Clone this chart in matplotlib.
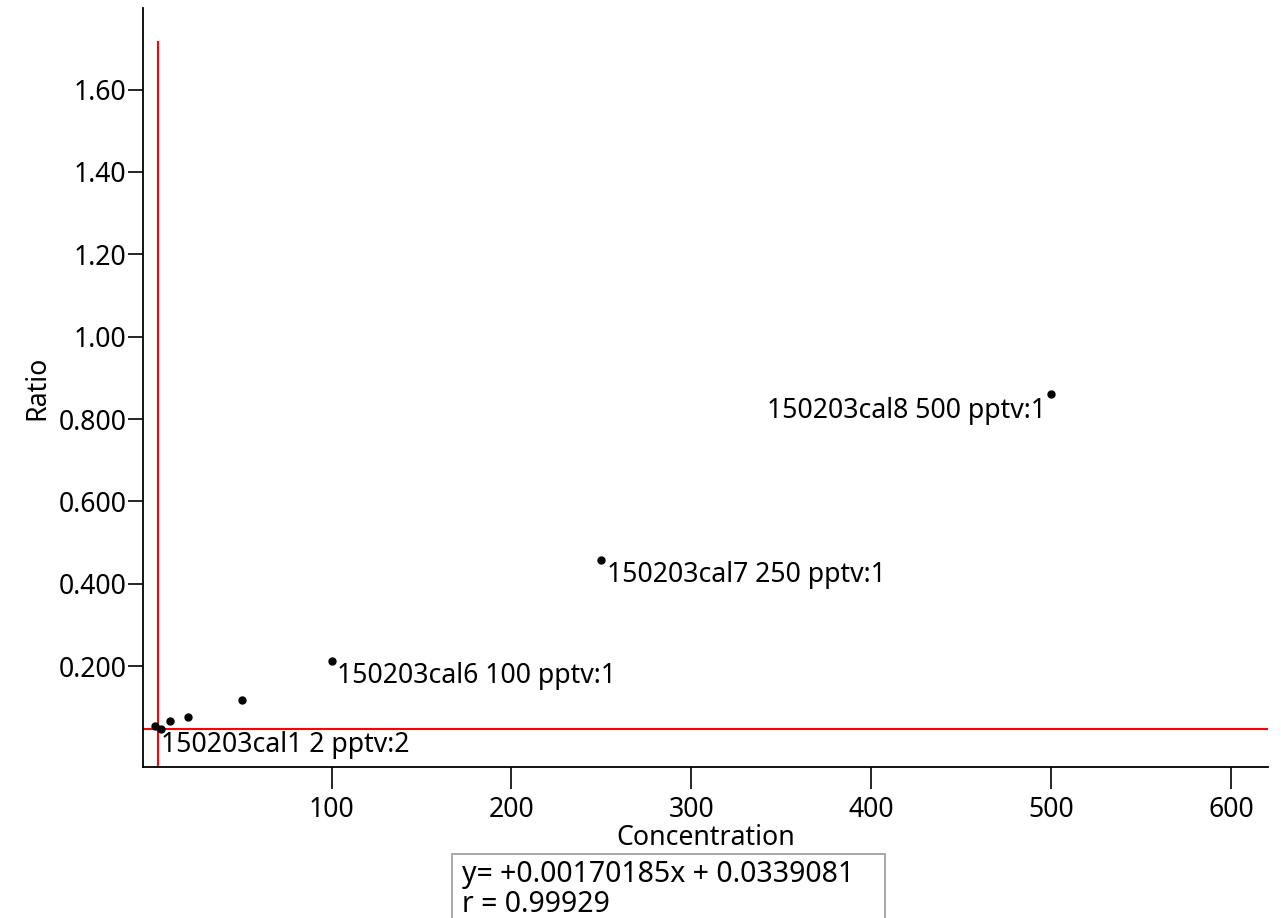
import matplotlib
matplotlib.use("Agg")
import matplotlib.pyplot as plt
from matplotlib.patches import Rectangle

# Calibration standards: concentration (pptv) vs. response ratio
concentration = [2, 5, 10, 20, 50, 100, 250, 500]
ratio = [0.055, 0.047, 0.066, 0.077, 0.118, 0.213, 0.458, 0.861]

# Annotated standards: (concentration, ratio, label)
label_conc = [2, 100, 250, 500]
label_ratio = [0.047, 0.213, 0.458, 0.861]
label_text = ["150203cal1 2 pptv:2", "150203cal6 100 pptv:1",
              "150203cal7 250 pptv:1", "150203cal8 500 pptv:1"]

x_ticks = [100, 200, 300, 400, 500, 600]
y_ticks = [0.2, 0.4, 0.6, 0.8, 1.0, 1.2, 1.4, 1.6]
y_tick_labels = ["0.200", "0.400", "0.600", "0.800", "1.00", "1.20", "1.40", "1.60"]

ref_x = 3.4       # vertical reference line
ref_y = 0.047     # horizontal reference line
ref_top = 1.716

fit_text = "y= +0.00170185x + 0.0339081\nr = 0.99929"

plt.rcParams["font.family"] = ["Noto Sans", "DejaVu Sans"]
FS = 19.2

fig = plt.figure(figsize=(12.81, 9.18), dpi=100)
ax = fig.add_axes([143 / 1281, (918 - 767) / 918, (1268 - 143) / 1281, (767 - 8) / 918])
ax.set_xlim(-4.8, 620.5)
ax.set_ylim(-0.045, 1.798)

for s in ("top", "right"):
    ax.spines[s].set_visible(False)
for s in ("left", "bottom"):
    ax.spines[s].set_linewidth(1.3)

ax.set_xticks(x_ticks)
ax.set_xticklabels([str(v) for v in x_ticks])
ax.set_yticks(y_ticks)
ax.set_yticklabels(y_tick_labels)
ax.tick_params(axis="x", direction="out", length=16, width=1.2,
               labelsize=FS, colors="black", pad=5)
ax.tick_params(axis="y", direction="out", length=11, width=1.2,
               labelsize=FS, colors="black", pad=1)

# Reference lines
ax.plot([ref_x, ref_x], [ax.get_ylim()[0], ref_top], color="red", lw=1.5, zorder=2)
ax.axhline(ref_y, color="red", lw=1.5, zorder=2)

# Data points
ax.plot(concentration, ratio, "o", color="black", markersize=5, zorder=3)

# Point labels
for c, r, t in zip(label_conc, label_ratio, label_text):
    if c == 500:
        ax.annotate(t, (c, r), xytext=(-4, -2), textcoords="offset points",
                    ha="right", va="top", fontsize=FS)
    else:
        ax.annotate(t, (c, r), xytext=(4, -1), textcoords="offset points",
                    ha="left", va="top", fontsize=FS)

ax.set_xlabel("Concentration", fontsize=FS, labelpad=0)
ax.set_ylabel("Ratio", fontsize=FS, labelpad=5)

# Regression results box
fig.patches.append(Rectangle((452 / 1281, -0.01), (885 - 452) / 1281, (918 - 854) / 918 + 0.01,
                             transform=fig.transFigure, fill=False,
                             edgecolor="#999999", lw=1.2))
fig.text(462 / 1281, (918 - 860) / 918, fit_text, fontsize=20.5, va="top", ha="left",
         linespacing=1.05)

fig.savefig("out.png", dpi=100)
